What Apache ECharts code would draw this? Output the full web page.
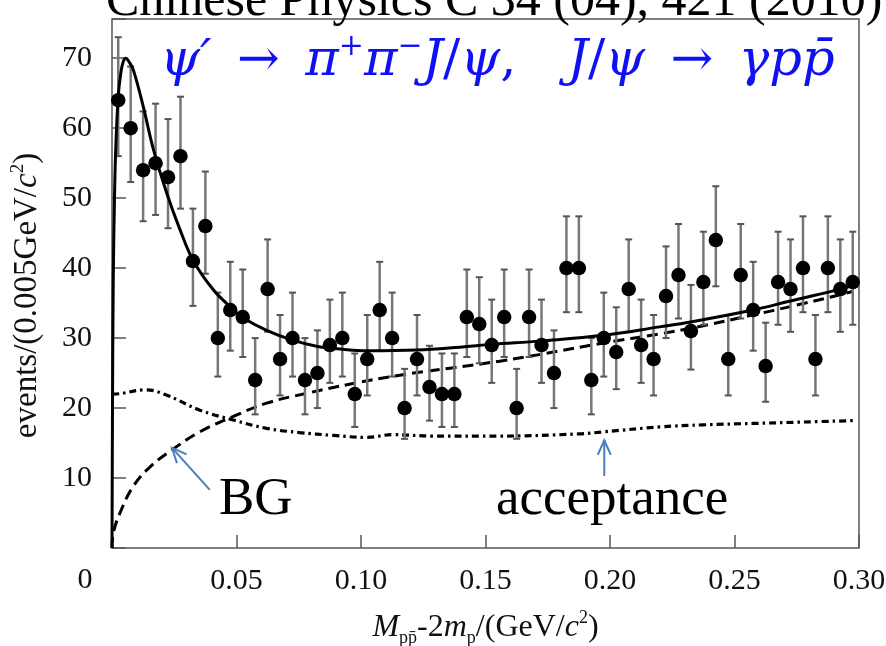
<!DOCTYPE html>
<html>
<head>
<meta charset="utf-8">
<script src="https://cdn.jsdelivr.net/npm/echarts@6/dist/echarts.min.js"></script>
<style>
html,body{margin:0;padding:0;background:#fff;}
#chart{width:886px;height:646px;}
</style>
</head>
<body>
<div id="chart"></div>
<script>
// ---- data ----
const binCenters = [0.0025,0.0075,0.0125,0.0175,0.0225,0.0275,0.0325,0.0375,0.0425,0.0475,
  0.0525,0.0575,0.0625,0.0675,0.0725,0.0775,0.0825,0.0875,0.0925,0.0975,
  0.1025,0.1075,0.1125,0.1175,0.1225,0.1275,0.1325,0.1375,0.1425,0.1475,
  0.1525,0.1575,0.1625,0.1675,0.1725,0.1775,0.1825,0.1875,0.1925,0.1975,
  0.2025,0.2075,0.2125,0.2175,0.2225,0.2275,0.2325,0.2375,0.2425,0.2475,
  0.2525,0.2575,0.2625,0.2675,0.2725,0.2775,0.2825,0.2875,0.2925,0.2975];
const counts = [64,60,54,55,53,56,41,46,30,34,
  33,24,37,27,30,24,25,29,30,22,
  27,34,30,20,27,23,22,22,33,32,
  29,33,20,33,29,25,40,40,24,30,
  28,37,29,27,36,39,31,38,44,27,
  39,34,26,38,37,40,27,40,37,38];
const errMinus = [8.0,7.7,7.3,7.4,7.3,7.5,6.4,6.8,5.5,5.8,
  5.7,4.9,6.1,5.2,5.5,4.9,5.0,5.4,5.5,4.7,
  5.2,5.8,5.5,4.4,5.2,4.8,4.7,4.7,5.7,5.6,
  5.4,5.7,4.4,5.7,5.4,5.0,6.3,6.3,4.9,5.5,
  5.3,6.1,5.4,5.2,6.0,6.2,5.5,6.1,6.6,5.2,
  6.2,5.8,5.1,6.1,6.1,6.3,5.2,6.3,6.1,6.1];
const errPlus = [9.0,8.8,8.4,8.5,8.3,8.5,7.5,7.8,6.5,6.9,
  6.8,6.0,7.1,6.3,6.5,6.0,6.1,6.5,6.5,5.8,
  6.3,6.9,6.5,5.6,6.3,5.9,5.8,5.8,6.8,6.7,
  6.5,6.8,5.6,6.8,6.5,6.1,7.4,7.4,6.0,6.5,
  6.4,7.1,6.5,6.3,7.1,7.3,6.6,7.2,7.7,6.3,
  7.3,6.9,6.2,7.2,7.1,7.4,6.3,7.4,7.1,7.2];

const fitX = [0,0.0002,0.0005,0.001,0.0015,0.0025,0.0035,0.0045,0.0056,0.0068,0.0086,0.0126,0.0166,0.022,0.0273,0.0326,0.0407,0.048,0.0526,0.0621,0.0725,0.0826,0.0927,0.1022,0.1223,0.1397,0.1524,0.1725,0.1974,0.2199,0.2324,0.2574,0.2724,0.2925,0.2975];
const fitY = [0,20,38,50,57,64.5,67.8,69.5,70,69.5,68.3,63,57,50.7,45.5,41.1,36.9,34.3,32.9,31.1,29.7,28.8,28.4,28.2,28.3,28.7,29.1,29.6,30.4,31.6,32.3,34.0,35.3,37.0,37.5];

const bgX = [0,0.0005,0.0032,0.0085,0.0153,0.024,0.0353,0.0487,0.0621,0.0781,0.0968,0.1156,0.1357,0.1557,0.1725,0.1974,0.2199,0.2324,0.2574,0.2724,0.2925,0.2975];
const bgY = [0,2.1,5,8.8,11.6,14,16.6,18.8,20.7,22.1,23.5,24.7,25.7,26.7,27.7,29.3,30.6,31.4,33.3,34.5,36.2,36.7];

const accX = [0,0.0005,0.0135,0.0216,0.0353,0.0487,0.0621,0.0754,0.0888,0.1022,0.1129,0.129,0.1557,0.1874,0.1974,0.2199,0.2375,0.2574,0.2774,0.2975];
const accY = [22,22,22.6,21.9,19.7,18.3,17.1,16.5,16.1,15.8,16.2,16.0,16.0,16.3,16.6,17.3,17.6,17.8,18.0,18.2];

const xTicks = [0,0.05,0.10,0.15,0.20,0.25,0.30];
const yTicks = [0,10,20,30,40,50,60,70];

const topText = 'Chinese Physics C 34 (04), 421 (2010)';
const bgLabel = 'BG';
const accLabel = 'acceptance';
// annotation arrows in data coordinates: [tail, tip]
const bgArrow = [[0.0393, 8.3], [0.0241, 14.3]];
const accArrow = [[0.1977, 10.3], [0.1977, 15.4]];

// ---- build ----
const zip = (a, b) => a.map((v, i) => [v, b[i]]);
const pointData = binCenters.map((x, i) => [x, counts[i]]);
const errData = binCenters.map((x, i) => [x, counts[i], counts[i] - errMinus[i], counts[i] + errPlus[i]]);

const SERIF = "'Liberation Serif','DejaVu Serif',serif";
const MATH = "'DejaVu Serif','Liberation Serif',serif";
const BLUE = '#1010f5';
const chart = echarts.init(document.getElementById('chart'), null, {renderer: 'canvas'});

const option = {
  animation: false,
  backgroundColor: '#fff',
  grid: {left: 112, right: 27, top: 19, bottom: 98, show: true, borderColor: '#555', borderWidth: 1.5,
    backgroundColor: 'transparent', containLabel: false, outerBoundsMode: 'none'},
  xAxis: {
    type: 'value', min: 0, max: 0.3, interval: 0.05,
    axisLine: {show: false},
    splitLine: {show: false},
    axisTick: {inside: true, length: 13, lineStyle: {color: '#555', width: 1.5}},
    axisLabel: {showMinLabel: false, formatter: v => xTicks.some(t => Math.abs(t - v) < 1e-9) ? v.toFixed(2) : '',
      fontFamily: SERIF, fontSize: 30, color: '#111', margin: 18},
    name: '{i|M}{sub|pp\u0304}-2{i|m}{sub|p}/(GeV/{i|c}{sup|2})',
    nameLocation: 'middle', nameGap: 61,
    nameTextStyle: {fontFamily: SERIF, fontSize: 32, color: '#111', lineHeight: 38,
      rich: {
        i: {fontFamily: SERIF, fontSize: 32, fontStyle: 'italic', color: '#111'},
        sub: {fontFamily: SERIF, fontSize: 18, color: '#111', verticalAlign: 'bottom', lineHeight: 38},
        sup: {fontFamily: SERIF, fontSize: 18, color: '#111', verticalAlign: 'top', lineHeight: 38}
      }}
  },
  yAxis: {
    type: 'value', min: 0, max: 75.6, interval: 10,
    axisLine: {show: false},
    splitLine: {show: false},
    axisTick: {inside: true, length: 14, lineStyle: {color: '#555', width: 1.5}},
    axisLabel: {formatter: v => (yTicks.indexOf(v) > 0 ? String(v) : ''),
      fontFamily: SERIF, fontSize: 30, color: '#111', margin: 20},
    name: 'events/(0.005GeV/{i|c}{sup|2})',
    nameLocation: 'middle', nameRotate: 90, nameGap: 67,
    nameTextStyle: {fontFamily: SERIF, fontSize: 33, color: '#111', lineHeight: 36, padding: [0, 24, 0, 0],
      rich: {
        i: {fontFamily: SERIF, fontSize: 33, fontStyle: 'italic', color: '#111'},
        sup: {fontFamily: SERIF, fontSize: 19, color: '#111', verticalAlign: 'top', lineHeight: 36}
      }}
  },
  series: [
    {
      name: 'acceptance', type: 'line', data: zip(accX, accY), showSymbol: false, smooth: 0.4,
      lineStyle: {color: '#000', width: 3.2, type: [7, 4, 2.5, 4]}, z: 2
    },
    {
      name: 'BG', type: 'line', data: zip(bgX, bgY), showSymbol: false, smooth: 0.4,
      lineStyle: {color: '#000', width: 3, type: [11, 6]}, z: 2
    },
    {
      name: 'errors', type: 'custom', data: errData, z: 3,
      renderItem: (params, api) => {
        const x = api.value(0);
        const lo = api.coord([x, api.value(2)]);
        const hi = api.coord([x, api.value(3)]);
        const st = {stroke: '#777', lineWidth: 2.5};
        return {type: 'group', children: [
          {type: 'line', shape: {x1: lo[0], y1: lo[1], x2: hi[0], y2: hi[1]}, style: st},
          {type: 'line', shape: {x1: lo[0] - 3.5, y1: lo[1], x2: lo[0] + 3.5, y2: lo[1]}, style: {stroke: '#555', lineWidth: 2}},
          {type: 'line', shape: {x1: hi[0] - 3.5, y1: hi[1], x2: hi[0] + 3.5, y2: hi[1]}, style: {stroke: '#555', lineWidth: 2}}
        ]};
      }
    },
    {
      name: 'fit', type: 'line', data: zip(fitX, fitY), showSymbol: false, smooth: 0.4,
      lineStyle: {color: '#000', width: 3}, z: 4
    },
    {
      name: 'data', type: 'scatter', data: pointData, symbol: 'circle', symbolSize: 14.5,
      itemStyle: {color: '#000', opacity: 1}, z: 5
    }
  ]
};
chart.setOption(option);

function arrowGraphics(arrow, id) {
  const tail = chart.convertToPixel({gridIndex: 0}, arrow[0]);
  const tip = chart.convertToPixel({gridIndex: 0}, arrow[1]);
  const ang = Math.atan2(tail[1] - tip[1], tail[0] - tip[0]);
  const L = 16, spread = 0.42;
  const h1 = [tip[0] + L * Math.cos(ang + spread), tip[1] + L * Math.sin(ang + spread)];
  const h2 = [tip[0] + L * Math.cos(ang - spread), tip[1] + L * Math.sin(ang - spread)];
  const st = {stroke: '#4a7ebb', lineWidth: 2, fill: null};
  return [
    {type: 'polyline', id: id + 'l', shape: {points: [tail, tip]}, style: st, z: 10},
    {type: 'polyline', id: id + 'h', shape: {points: [h1, tip, h2]}, style: st, z: 10}
  ];
}

const SP = '\u2002';
chart.setOption({
  graphic: [
    {type: 'text', x: 106, y: -23, style: {text: topText, font: "50px " + SERIF, fill: '#000'}, z: 10},
    {type: 'text', x: 160, y: 62, style: {
      text: '{i|\u03C8\u2032}' + SP + '\u2192' + SP + '{i|\u03C0}{s|+}{i|\u03C0}{s|\u2212}{i|J}/{i|\u03C8},\u2003{i|J}/{i|\u03C8}' + SP + '\u2192' + SP + '{i|\u03B3pp\u0304}',
      fill: BLUE, fontFamily: MATH, fontSize: 51, lineHeight: 60, verticalAlign: 'middle',
      rich: {
        i: {fontFamily: MATH, fontSize: 51, fontStyle: 'italic', fill: BLUE, lineHeight: 60},
        s: {fontFamily: MATH, fontSize: 30, fill: BLUE, verticalAlign: 'top', lineHeight: 60}
      }}, z: 10},
    {type: 'text', x: 85, y: 580, style: {text: '0', font: "30px " + SERIF, fill: '#111', align: 'center', verticalAlign: 'middle'}},
    {type: 'text', x: 219, y: 500, style: {text: bgLabel, font: "53px " + SERIF, fill: '#000', verticalAlign: 'middle'}, z: 10},
    {type: 'text', x: 496, y: 500, style: {text: accLabel, font: "53px " + SERIF, fill: '#000', verticalAlign: 'middle'}, z: 10}
  ].concat(arrowGraphics(bgArrow, 'bga'), arrowGraphics(accArrow, 'aca'))
});
</script>
</body>
</html>
